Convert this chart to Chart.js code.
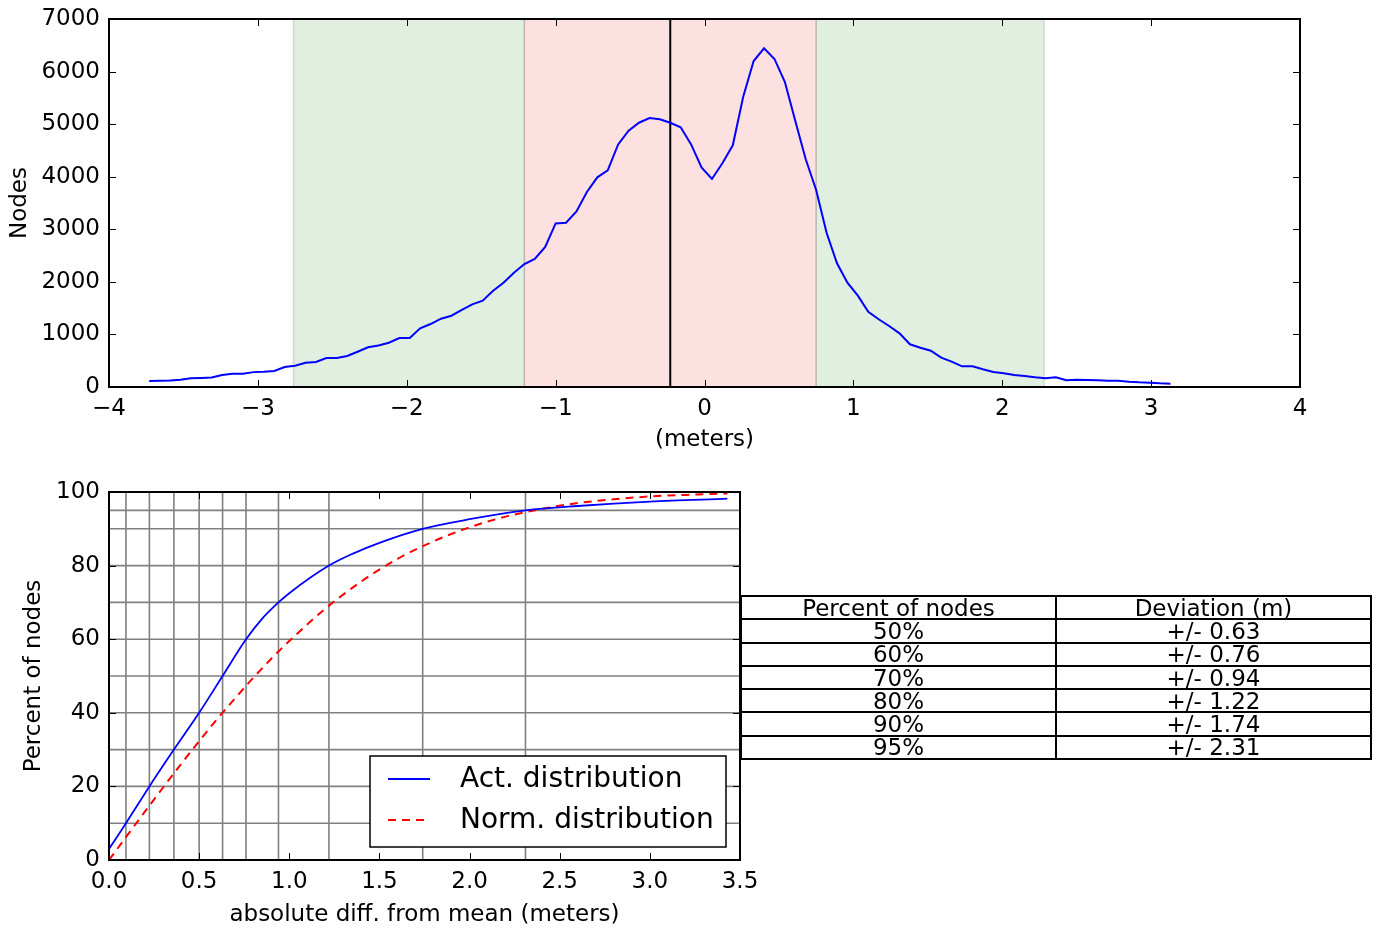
<!DOCTYPE html>
<html>
<head>
<meta charset="utf-8">
<script src="https://cdn.jsdelivr.net/npm/chart.js@4.4.1/dist/chart.umd.min.js"></script>
<style>
  body { margin: 0; background: #fff; width: 1383px; height: 929px; position: relative; overflow: hidden; font-family: "DejaVu Sans", sans-serif; }
  #top { position: absolute; left: 0; top: 0; }
  #bottom { position: absolute; left: 0; top: 470px; }
  #tbl { position: absolute; left: 740px; top: 595px; border-collapse: collapse; font-size: 23px; color: #000; }
  #tbl td { border: 2px solid #000; width: 313px; height: 21.3px; padding: 0; text-align: center; line-height: 18px; }
</style>
</head>
<body>
<canvas id="top" width="1383" height="460"></canvas>
<canvas id="bottom" width="760" height="459"></canvas>
<table id="tbl"></table>
<script>
// top: distribution of node deviations
const distX = [-3.73, -3.66, -3.59, -3.52, -3.45, -3.38, -3.31, -3.24, -3.17, -3.10,
  -3.03, -2.96, -2.89, -2.82, -2.75, -2.68, -2.61, -2.54, -2.47, -2.40,
  -2.33, -2.26, -2.19, -2.12, -2.05, -1.98, -1.91, -1.84, -1.77, -1.70,
  -1.63, -1.56, -1.49, -1.42, -1.35, -1.28, -1.21, -1.14, -1.07, -1.00,
  -0.93, -0.86, -0.79, -0.72, -0.65, -0.58, -0.51, -0.44, -0.37, -0.30,
  -0.23, -0.16, -0.09, -0.02, 0.05, 0.12, 0.19, 0.26, 0.33, 0.40,
  0.47, 0.54, 0.61, 0.68, 0.75, 0.82, 0.89, 0.96, 1.03, 1.10,
  1.17, 1.24, 1.31, 1.38, 1.45, 1.52, 1.59, 1.66, 1.73, 1.80,
  1.87, 1.94, 2.01, 2.08, 2.15, 2.22, 2.29, 2.36, 2.43, 2.50,
  2.57, 2.64, 2.71, 2.78, 2.85, 2.92, 2.99, 3.06, 3.13];
const distNodes = [114, 118, 125, 140, 165, 172, 180, 230, 252, 252,
  283, 290, 305, 380, 405, 460, 475, 550, 550, 590,
  670, 755, 790, 843, 932, 932, 1116, 1198, 1299, 1356,
  1465, 1573, 1642, 1832, 1984, 2174, 2340, 2435, 2663, 3112,
  3125, 3341, 3709, 3988, 4121, 4615, 4875, 5027, 5117, 5092,
  5027, 4940, 4615, 4178, 3957, 4255, 4597, 5522, 6201, 6443,
  6240, 5802, 5060, 4331, 3747, 2935, 2353, 1984, 1737, 1432,
  1288, 1160, 1021, 812, 748, 691, 558, 482, 393, 393,
  336, 285, 260, 228, 209, 184, 165, 184, 127, 139,
  133, 127, 120, 120, 101, 89, 82, 70, 63];
const meanDev = -0.23;
const innerBand = [-1.21, 0.75];
const outerBand = [-2.76, 2.28];

// bottom: cumulative distributions
const actX = [0, 0.094, 0.224, 0.36, 0.50, 0.63, 0.76, 0.85, 0.94, 1.0, 1.22, 1.35, 1.5, 1.74, 2.0, 2.31, 2.6, 3.0, 3.43];
const actPct = [3, 10, 20, 30, 40, 50, 60, 65.6, 70, 72.5, 80, 83.2, 86.2, 90, 92.6, 95, 96.2, 97.4, 98.2];
const normX = [0, 0.1, 0.2, 0.3, 0.4, 0.5, 0.6, 0.7, 0.8, 0.9, 1.0, 1.2, 1.4, 1.6, 1.8, 2.0, 2.2, 2.4, 2.6, 2.8, 3.0, 3.2, 3.43];
const normPct = [0, 6.6, 13.2, 19.7, 26.1, 32.3, 38.3, 44.0, 49.5, 54.7, 59.5, 68.3, 75.7, 81.8, 86.6, 90.4, 93.3, 95.4, 97.0, 98.0, 98.8, 99.2, 99.6];

// table + guide lines
const tableLevels = [50, 60, 70, 80, 90, 95];
const tableDeviations = [0.63, 0.76, 0.94, 1.22, 1.74, 2.31];
const lowLevels = [10, 20, 30, 40];
const lowDeviations = [0.094, 0.224, 0.36, 0.50];

const tickFont = { family: 'DejaVu Sans', size: 23 };
const minus = v => (v < 0 ? '\u2212' + Math.abs(v) : String(v));

// keep the plot box exactly where the axis sizes put it
const fixAxis = (w, h) => s => {
  if (w) s.width = w;
  if (h) s.height = h;
  s.paddingTop = s.paddingBottom = s.paddingLeft = s.paddingRight = 0;
};

// inward ticks on all four sides + black frame
const frameTicks = {
  id: 'frameTicks',
  afterDatasetsDraw(chart) {
    const { ctx, chartArea: a, scales } = chart;
    ctx.save();
    ctx.strokeStyle = '#000';
    ctx.lineWidth = 1;
    ctx.beginPath();
    scales.x.ticks.forEach(t => {
      const px = Math.round(scales.x.getPixelForValue(t.value)) + 0.5;
      ctx.moveTo(px, a.bottom); ctx.lineTo(px, a.bottom - 7);
      ctx.moveTo(px, a.top); ctx.lineTo(px, a.top + 7);
    });
    scales.y.ticks.forEach(t => {
      const py = Math.round(scales.y.getPixelForValue(t.value)) + 0.5;
      ctx.moveTo(a.left, py); ctx.lineTo(a.left + 7, py);
      ctx.moveTo(a.right, py); ctx.lineTo(a.right - 7, py);
    });
    ctx.stroke();
    ctx.lineWidth = 2;
    ctx.strokeRect(a.left, a.top, a.width, a.height);
    ctx.restore();
  }
};

const bands = {
  id: 'bands',
  beforeDatasetsDraw(chart) {
    const { ctx, chartArea: a, scales: { x } } = chart;
    const span = (r, fill, edge) => {
      const x0 = x.getPixelForValue(r[0]), x1 = x.getPixelForValue(r[1]);
      ctx.fillStyle = fill;
      ctx.fillRect(x0, a.top, x1 - x0, a.height);
      ctx.strokeStyle = edge;
      ctx.lineWidth = 1.5;
      ctx.beginPath();
      ctx.moveTo(x0, a.top); ctx.lineTo(x0, a.bottom);
      ctx.moveTo(x1, a.top); ctx.lineTo(x1, a.bottom);
      ctx.stroke();
    };
    ctx.save();
    span(outerBand, '#e0efe0', '#cfd8cf');
    span(innerBand, '#fde0e0', '#bdb6b3');
    const m = x.getPixelForValue(meanDev);
    ctx.strokeStyle = '#000';
    ctx.lineWidth = 2;
    ctx.beginPath();
    ctx.moveTo(m, a.top); ctx.lineTo(m, a.bottom);
    ctx.stroke();
    ctx.restore();
  }
};

const guideGrid = {
  id: 'guideGrid',
  beforeDatasetsDraw(chart) {
    const { ctx, chartArea: a, scales: { x, y } } = chart;
    ctx.save();
    ctx.strokeStyle = '#808080';
    ctx.lineWidth = 1.6;
    ctx.beginPath();
    lowDeviations.concat(tableDeviations).forEach(d => {
      const px = x.getPixelForValue(d);
      ctx.moveTo(px, a.top); ctx.lineTo(px, a.bottom);
    });
    lowLevels.concat(tableLevels).forEach(p => {
      const py = y.getPixelForValue(p);
      ctx.moveTo(a.left, py); ctx.lineTo(a.right, py);
    });
    ctx.stroke();
    ctx.restore();
  }
};

const boxLegend = {
  id: 'boxLegend',
  afterDraw(chart) {
    const { ctx, chartArea: a } = chart;
    const w = 356, h = 91;
    const bx = a.right - 14 - w, by = a.bottom - 13 - h;
    ctx.save();
    ctx.fillStyle = '#fff';
    ctx.fillRect(bx, by, w, h);
    ctx.strokeStyle = '#000';
    ctx.lineWidth = 1.5;
    ctx.strokeRect(bx, by, w, h);
    ctx.font = '28px "DejaVu Sans"';
    ctx.textBaseline = 'middle';
    chart.data.datasets.forEach((ds, i) => {
      const ly = by + 23 + i * 41;
      ctx.strokeStyle = ds.borderColor;
      ctx.lineWidth = ds.borderWidth;
      ctx.setLineDash(ds.borderDash || []);
      ctx.beginPath();
      ctx.moveTo(bx + 18, ly); ctx.lineTo(bx + 60, ly);
      ctx.stroke();
      ctx.setLineDash([]);
      ctx.fillStyle = '#000';
      ctx.fillText(ds.label, bx + 90, ly + 1);
    });
    ctx.restore();
  }
};

new Chart(document.getElementById('top'), {
  type: 'line',
  data: {
    datasets: [{
      data: distX.map((x, i) => ({ x, y: distNodes[i] })),
      borderColor: '#0000ff', borderWidth: 2, pointRadius: 0, tension: 0, fill: false
    }]
  },
  options: {
    responsive: false, animation: false, events: [],
    layout: { padding: { top: 19, right: 83, left: 0, bottom: 0 } },
    plugins: { legend: { display: false }, tooltip: { enabled: false } },
    scales: {
      x: {
        type: 'linear', min: -4, max: 4,
        ticks: { stepSize: 1, padding: 8, font: tickFont, color: '#000', callback: minus },
        grid: { display: false, drawTicks: false }, border: { display: false },
        title: { display: true, text: '(meters)', font: tickFont, color: '#000', padding: { top: 0, bottom: 6 } },
        afterFit: fixAxis(0, 73)
      },
      y: {
        min: 0, max: 7000,
        ticks: { stepSize: 1000, padding: 9, font: tickFont, color: '#000', callback: v => String(v) },
        grid: { display: false, drawTicks: false }, border: { display: false },
        title: { display: true, text: 'Nodes', font: tickFont, color: '#000', padding: { top: 6, bottom: 0 } },
        afterFit: fixAxis(109, 0)
      }
    }
  },
  plugins: [bands, frameTicks]
});

new Chart(document.getElementById('bottom'), {
  type: 'line',
  data: {
    datasets: [{
      label: 'Act. distribution',
      data: actX.map((x, i) => ({ x, y: actPct[i] })),
      borderColor: '#0000ff', borderWidth: 1.8, pointRadius: 0,
      cubicInterpolationMode: 'monotone', fill: false
    }, {
      label: 'Norm. distribution',
      data: normX.map((x, i) => ({ x, y: normPct[i] })),
      borderColor: '#ff0000', borderWidth: 2, borderDash: [8, 6], pointRadius: 0,
      cubicInterpolationMode: 'monotone', fill: false
    }]
  },
  options: {
    responsive: false, animation: false, events: [],
    layout: { padding: { top: 22, right: 20, left: 0, bottom: 0 } },
    plugins: { legend: { display: false }, tooltip: { enabled: false } },
    scales: {
      x: {
        type: 'linear', min: 0, max: 3.5,
        ticks: { stepSize: 0.5, padding: 8, font: tickFont, color: '#000', callback: v => v.toFixed(1) },
        grid: { display: false, drawTicks: false }, border: { display: false },
        title: { display: true, text: 'absolute diff. from mean (meters)', font: tickFont, color: '#000', padding: { top: 0, bottom: 0 } },
        afterFit: fixAxis(0, 69)
      },
      y: {
        min: 0, max: 100,
        ticks: { stepSize: 20, padding: 9, font: tickFont, color: '#000' },
        grid: { display: false, drawTicks: false }, border: { display: false },
        title: { display: true, text: 'Percent of nodes', font: tickFont, color: '#000', padding: { top: 20, bottom: 0 } },
        afterFit: fixAxis(109, 0)
      }
    }
  },
  plugins: [guideGrid, frameTicks, boxLegend]
});

const tbl = document.getElementById('tbl');
const addRow = (a, b) => {
  const tr = tbl.insertRow();
  tr.insertCell().textContent = a;
  tr.insertCell().textContent = b;
};
addRow('Percent of nodes', 'Deviation (m)');
tableLevels.forEach((p, i) => addRow(p + '%', '+/- ' + tableDeviations[i].toFixed(2)));
</script>
</body>
</html>
